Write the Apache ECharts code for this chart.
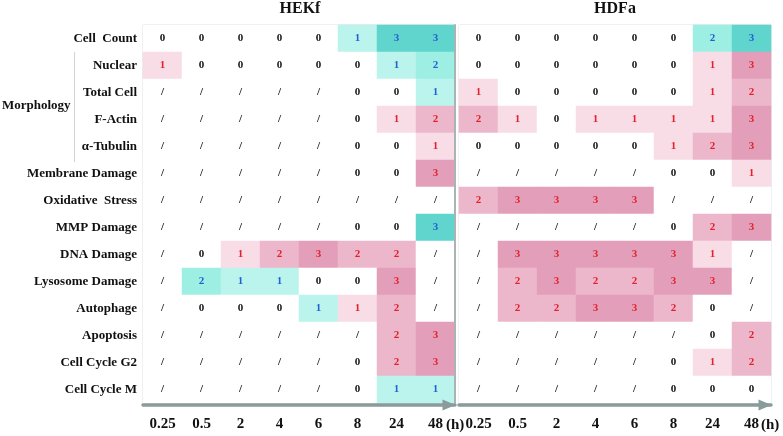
<!DOCTYPE html>
<html>
<head>
<meta charset="utf-8">
<script src="https://cdn.jsdelivr.net/npm/echarts@6/dist/echarts.min.js"></script>
<style>html,body{margin:0;padding:0;background:#fff;}#c{width:783px;height:436px;}</style>
</head>
<body>
<div id="c"></div>
<script>
// Time points (h)
const times = ['0.25', '0.5', '2', '4', '6', '8', '24', '48'];
// Indicators (top to bottom)
const indicators = ['Cell  Count', 'Nuclear', 'Total Cell', 'F-Actin', 'α-Tubulin', 'Membrane Damage',
  'Oxidative  Stress', 'MMP Damage', 'DNA Damage', 'Lysosome Damage', 'Autophage', 'Apoptosis',
  'Cell Cycle G2', 'Cell Cycle M'];
const panels = ['HEKf', 'HDFa'];
// Encoding: positive = pink (red text) level, negative = teal (blue text) level, 0 = "0", null = "/"
const _ = null;
const hekf = [
  [0, 0, 0, 0, 0, -1, -3, -3],
  [1, 0, 0, 0, 0, 0, -1, -2],
  [_, _, _, _, _, 0, 0, -1],
  [_, _, _, _, _, 0, 1, 2],
  [_, _, _, _, _, 0, 0, 1],
  [_, _, _, _, _, 0, 0, 3],
  [_, _, _, _, _, _, _, _],
  [_, _, _, _, _, 0, 0, -3],
  [_, 0, 1, 2, 3, 2, 2, _],
  [_, -2, -1, -1, 0, 0, 3, _],
  [_, 0, 0, 0, -1, 1, 2, _],
  [_, _, _, _, _, _, 2, 3],
  [_, _, _, _, _, 0, 2, 3],
  [_, _, _, _, _, 0, -1, -1]
];
const hdfa = [
  [0, 0, 0, 0, 0, 0, -2, -3],
  [0, 0, 0, 0, 0, 0, 1, 3],
  [1, 0, 0, 0, 0, 0, 1, 2],
  [2, 1, 0, 1, 1, 1, 1, 3],
  [0, 0, 0, 0, 0, 1, 2, 3],
  [_, _, _, _, _, 0, 0, 1],
  [2, 3, 3, 3, 3, _, _, _],
  [_, _, _, _, _, 0, 2, 3],
  [_, 3, 3, 3, 3, 3, 1, _],
  [_, 2, 3, 2, 2, 3, 3, _],
  [_, 2, 2, 3, 3, 2, 0, _],
  [_, _, _, _, _, _, 0, 2],
  [_, _, _, _, _, 0, 1, 2],
  [_, _, _, _, _, 0, 0, 0]
];

const pinkColors = ['#ffffff', '#f8dde7', '#edb7cb', '#e39fba'];
const tealColors = ['#ffffff', '#bbf4ec', '#9eefe3', '#5fd5ce'];
const FONT = '"Liberation Serif", "Times New Roman", serif';

function buildData(mat) {
  const out = [];
  mat.forEach((row, yi) => {
    row.forEach((v, xi) => {
      let fill = '#ffffff', txt = '#111111', lab;
      if (v === null) { lab = '/'; }
      else if (v === 0) { lab = '0'; }
      else if (v > 0) { lab = String(v); fill = pinkColors[v]; txt = '#e3212d'; }
      else { lab = String(-v); fill = tealColors[-v]; txt = '#2460d4'; }
      out.push({
        value: [xi, yi, v === null ? 0 : Math.abs(v)],
        itemStyle: { color: fill },
        label: { formatter: lab, color: txt }
      });
    });
  });
  return out;
}

const chart = echarts.init(document.getElementById('c'), null, { renderer: 'canvas' });

const arrowLine = {
  show: true,
  symbol: ['none', 'triangle'],
  symbolSize: [11, 13],
  symbolOffset: [0, -6],
  lineStyle: { width: 3.5, color: '#8a9b9b' }
};

const xLabel = { fontFamily: FONT, fontWeight: 'bold', fontSize: 15, color: '#111', margin: 12 };
const hName = { fontFamily: FONT, fontWeight: 'bold', fontSize: 15, color: '#111',
  verticalAlign: 'top', align: 'left', padding: [13, 0, 0, 0] };

const option = {
  animation: false,
  backgroundColor: '#ffffff',
  title: [
    { text: panels[0], left: 300, top: 1, padding: 0, textAlign: 'center',
      textStyle: { fontFamily: FONT, fontWeight: 'bold', fontSize: 16, color: '#111' } },
    { text: panels[1], left: 615, top: 1, padding: 0, textAlign: 'center',
      textStyle: { fontFamily: FONT, fontWeight: 'bold', fontSize: 16, color: '#111' } }
  ],
  grid: [
    { left: 143, top: 25, width: 312, height: 378, show: true, borderColor: '#d5dada', borderWidth: 1 },
    { left: 459, top: 25, width: 312, height: 378, show: true, borderColor: '#d5dada', borderWidth: 1 }
  ],
  xAxis: [
    { type: 'category', gridIndex: 0, data: times, position: 'bottom', offset: 2, z: 10,
      axisTick: { show: false }, axisLabel: xLabel, axisLine: arrowLine,
      name: '(h)', nameLocation: 'end', nameGap: -9, nameMoveOverlap: false, nameTextStyle: hName },
    { type: 'category', gridIndex: 1, data: times, position: 'bottom', offset: 2, z: 10,
      axisTick: { show: false }, axisLabel: xLabel, axisLine: arrowLine,
      name: '(h)', nameLocation: 'end', nameGap: -10, nameMoveOverlap: false, nameTextStyle: hName }
  ],
  yAxis: [
    { type: 'category', gridIndex: 0, data: indicators, inverse: true,
      axisTick: { show: false }, axisLine: { show: false },
      axisLabel: { fontFamily: FONT, fontWeight: 'bold', fontSize: 13, color: '#111', margin: 6 } },
    { type: 'category', gridIndex: 1, data: indicators, inverse: true,
      axisTick: { show: false }, axisLine: { show: false }, axisLabel: { show: false } },
    { type: 'category', gridIndex: 0, data: indicators, inverse: true, position: 'right', z: 10,
      axisTick: { show: false }, axisLabel: { show: false },
      axisLine: { show: true, lineStyle: { color: '#aab4b4', width: 2 } } }
  ],
  graphic: [
    { type: 'text', left: 2, top: 99,
      style: { text: 'Morphology', font: 'bold 13px ' + FONT, fill: '#111' } },
    { type: 'line', shape: { x1: 74.5, y1: 52, x2: 74.5, y2: 162 },
      style: { stroke: '#cfd4d4', lineWidth: 1 } }
  ],
  series: [
    { type: 'heatmap', xAxisIndex: 0, yAxisIndex: 0, data: buildData(hekf),
      label: { show: true, fontFamily: FONT, fontWeight: 'bold', fontSize: 11 },
      emphasis: { disabled: true } },
    { type: 'heatmap', xAxisIndex: 1, yAxisIndex: 1, data: buildData(hdfa),
      label: { show: true, fontFamily: FONT, fontWeight: 'bold', fontSize: 11 },
      emphasis: { disabled: true } }
  ]
};
chart.setOption(option);
</script>
</body>
</html>
